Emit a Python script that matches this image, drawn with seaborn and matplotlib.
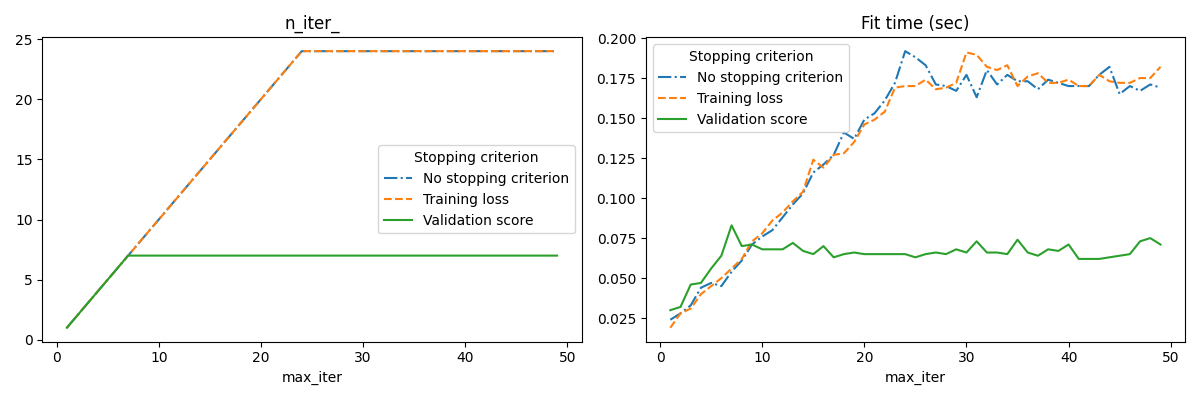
import numpy as np
import pandas as pd
import matplotlib
matplotlib.use("Agg")
import matplotlib.pyplot as plt
import seaborn as sns

max_iter = list(range(1, 50))

# n_iter_ values
n_iter_no_stop = [1, 2, 3, 4, 5, 6, 7, 8, 9, 10, 11, 12, 13, 14, 15, 16, 17, 18, 19, 20,
                  21, 22, 23, 24] + [24] * 25
n_iter_train_loss = [1, 2, 3, 4, 5, 6, 7, 8, 9, 10, 11, 12, 13, 14, 15, 16, 17, 18, 19, 20,
                     21, 22, 23, 24] + [24] * 25
n_iter_valid = [1, 2, 3, 4, 5, 6, 7] + [7] * 42

# Fit times (sec)
fit_no_stop = [0.024, 0.028, 0.033, 0.044, 0.047, 0.045, 0.054, 0.061, 0.071, 0.076,
               0.080, 0.088, 0.096, 0.103, 0.116, 0.121, 0.127, 0.141, 0.137, 0.149,
               0.153, 0.161, 0.172, 0.1918, 0.188, 0.183, 0.171, 0.170, 0.167, 0.177,
               0.163, 0.180, 0.171, 0.177, 0.173, 0.173, 0.168, 0.174, 0.172, 0.170,
               0.170, 0.170, 0.177, 0.182, 0.165, 0.170, 0.167, 0.171, 0.169]
fit_train_loss = [0.019, 0.028, 0.031, 0.040, 0.045, 0.050, 0.056, 0.062, 0.073, 0.078,
                  0.086, 0.091, 0.098, 0.104, 0.124, 0.119, 0.127, 0.128, 0.135, 0.146,
                  0.149, 0.154, 0.169, 0.170, 0.170, 0.174, 0.168, 0.169, 0.172, 0.191,
                  0.1895, 0.182, 0.180, 0.183, 0.170, 0.176, 0.178, 0.172, 0.172, 0.174,
                  0.170, 0.170, 0.177, 0.173, 0.172, 0.172, 0.175, 0.175, 0.182]
fit_valid = [0.030, 0.032, 0.046, 0.047, 0.056, 0.064, 0.083, 0.070, 0.071, 0.068,
             0.068, 0.068, 0.072, 0.067, 0.065, 0.070, 0.063, 0.065, 0.066, 0.065,
             0.065, 0.065, 0.065, 0.065, 0.063, 0.065, 0.066, 0.065, 0.068, 0.066,
             0.073, 0.066, 0.066, 0.065, 0.074, 0.066, 0.064, 0.068, 0.067, 0.071,
             0.062, 0.062, 0.062, 0.063, 0.064, 0.065, 0.073, 0.075, 0.071]

criteria = ["No stopping criterion", "Training loss", "Validation score"]
styles = ["-.", "--", "-"]
colors = ["#1f77b4", "#ff7f0e", "#2ca02c"]

fig, axes = plt.subplots(1, 2, figsize=(12, 4), dpi=100)

for ax, series, title, loc in [
    (axes[0], [n_iter_no_stop, n_iter_train_loss, n_iter_valid], "n_iter_", "center right"),
    (axes[1], [fit_no_stop, fit_train_loss, fit_valid], "Fit time (sec)", "upper left"),
]:
    for name, vals, ls, c in zip(criteria, series, styles, colors):
        sns.lineplot(x=max_iter, y=vals, ax=ax, label=name, linestyle=ls, color=c)
    ax.set_title(title)
    ax.set_xlabel("max_iter")
    ax.set_ylabel("")
    ax.legend(title="Stopping criterion", loc=loc)

axes[0].set_yticks([0, 5, 10, 15, 20, 25])

fig.tight_layout()
fig.savefig("out.png")
